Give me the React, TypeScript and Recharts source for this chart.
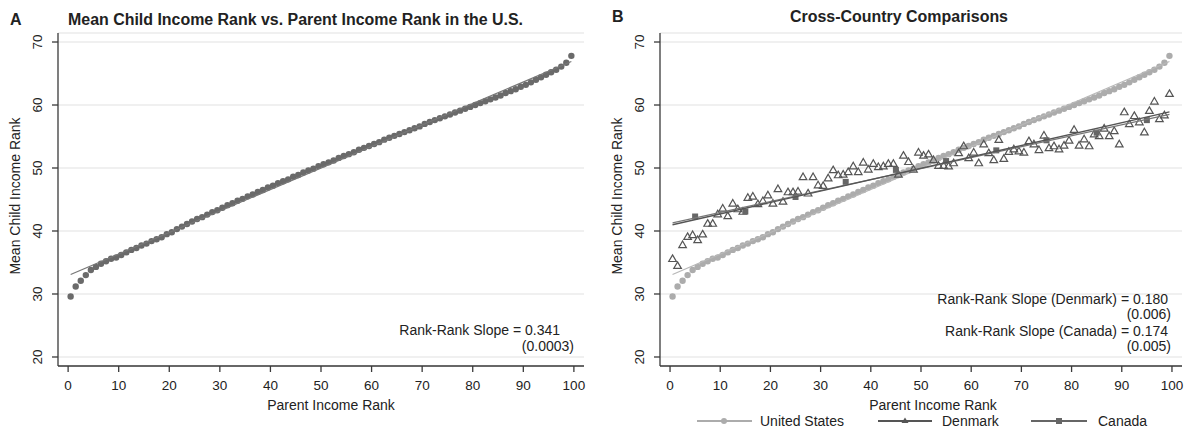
import React from 'react';
import { ScatterChart, Scatter, XAxis, YAxis, CartesianGrid } from 'recharts';

// ---------- data ----------
const parentRanks: number[] = Array.from({ length: 100 }, (_, i) => i + 0.5);

const usChildRank: number[] = [
  29.6, 31.2, 32.1, 33.0, 33.8, 34.3, 34.8, 35.2, 35.6, 35.8,
  36.2, 36.6, 37.0, 37.3, 37.7, 38.0, 38.4, 38.7, 39.0, 39.5,
  39.8, 40.3, 40.7, 41.1, 41.5, 41.9, 42.2, 42.6, 43.0, 43.3,
  43.7, 44.1, 44.4, 44.8, 45.1, 45.5, 45.8, 46.2, 46.5, 46.9,
  47.2, 47.6, 47.9, 48.2, 48.6, 48.9, 49.3, 49.6, 49.9, 50.3,
  50.6, 50.9, 51.2, 51.6, 51.9, 52.2, 52.5, 52.9, 53.2, 53.5,
  53.8, 54.1, 54.5, 54.8, 55.1, 55.4, 55.7, 56.0, 56.3, 56.6,
  57.0, 57.3, 57.6, 57.9, 58.2, 58.5, 58.8, 59.1, 59.4, 59.7,
  60.0, 60.3, 60.6, 60.9, 61.2, 61.5, 61.9, 62.2, 62.5, 62.9,
  63.2, 63.6, 64.0, 64.4, 64.8, 65.2, 65.6, 66.1, 66.7, 67.8,
];

const denmarkChildRank: number[] = [
  35.6, 34.5, 37.8, 39.1, 39.4, 38.6, 39.5, 41.2, 41.2, 42.7,
  43.6, 42.4, 44.4, 43.5, 43.1, 45.3, 45.5, 44.3, 44.8, 45.7,
  44.4, 46.7, 44.7, 46.2, 46.2, 46.3, 48.6, 46.0, 48.6, 47.3,
  47.2, 48.4, 49.7, 48.9, 49.0, 49.4, 50.3, 49.4, 50.9, 49.8,
  50.7, 50.2, 50.3, 50.7, 50.7, 49.0, 52.0, 51.0, 49.8, 52.5,
  52.0, 52.2, 51.3, 50.4, 50.4, 50.3, 50.8, 52.4, 53.5, 51.6,
  52.5, 50.8, 53.8, 52.4, 51.3, 54.5, 51.5, 52.6, 53.0, 52.7,
  52.5, 54.3, 53.8, 52.9, 55.2, 53.2, 53.5, 53.0, 53.6, 54.4,
  56.1, 53.6, 54.6, 53.5, 55.4, 55.1, 56.3, 55.1, 55.9, 53.8,
  58.9, 57.0, 58.3, 57.3, 55.7, 59.1, 60.6, 57.8, 58.4, 61.8,
];

const canadaParentRanks: number[] = [5, 15, 25, 35, 45, 55, 65, 75, 85, 95];
const canadaChildRank: number[] = [42.3, 43.1, 45.4, 47.8, 49.7, 51.1, 52.8, 54.4, 55.6, 57.6];

const fitEndsX: number[] = [0.5, 99.5];
const usFitY: number[] = [33.1, 66.9];
const denmarkFitY: number[] = [41.0, 58.9];
const canadaFitY: number[] = [41.3, 58.5];

const xTicks: number[] = [0, 10, 20, 30, 40, 50, 60, 70, 80, 90, 100];
const yTicks: number[] = [20, 30, 40, 50, 60, 70];

// ---------- derived tables ----------
const usData = parentRanks.map((x, i) => ({ x, y: usChildRank[i] }));
const dkData = parentRanks.map((x, i) => ({ x, y: denmarkChildRank[i] }));
const caData = canadaParentRanks.map((x, i) => ({ x, y: canadaChildRank[i] }));
const usFit = fitEndsX.map((x, i) => ({ x, y: usFitY[i] }));
const dkFit = fitEndsX.map((x, i) => ({ x, y: denmarkFitY[i] }));
const caFit = fitEndsX.map((x, i) => ({ x, y: canadaFitY[i] }));

const FONT = '"Liberation Sans", Arial, Helvetica, sans-serif';
const TXT = '#222';
const AXIS = '#3a3a3a';
const US_A = '#6a6a6a';
const US_B = '#acacac';
const DK = '#555555';
const CA = '#666666';

const XTick = (props: any) => (
  <text x={props.x} y={390} textAnchor="middle" fontSize={13.5} fill={TXT} fontFamily={FONT}>
    {props.payload.value}
  </text>
);

const makeYTick = (plotLeft: number) => (props: any) => (
  <text
    transform={`translate(${plotLeft - 16},${props.y}) rotate(-90)`}
    textAnchor="middle"
    fontSize={13.5}
    fill={TXT}
    fontFamily={FONT}
  >
    {props.payload.value}
  </text>
);

const dotShape = (color: string) => (p: any) => <circle cx={p.cx} cy={p.cy} r={3.2} fill={color} />;
const triShape = (p: any) => (
  <path
    d={`M${p.cx},${p.cy - 3.8} L${p.cx + 3.8},${p.cy + 2.8} L${p.cx - 3.8},${p.cy + 2.8} Z`}
    fill="none"
    stroke={DK}
    strokeWidth={1.2}
  />
);
const sqShape = (p: any) => <rect x={p.cx - 3} y={p.cy - 3} width={6} height={6} fill={CA} />;
const noShape = () => <g />;

function axesFor(plotLeft: number) {
  return [
    <CartesianGrid key="g" horizontal vertical={false} stroke="#ebebeb" strokeWidth={1.5} />,
    <XAxis
      key="x"
      type="number"
      dataKey="x"
      domain={[-2, 102]}
      ticks={xTicks}
      interval={0}
      height={30}
      tickSize={6}
      allowDataOverflow
      axisLine={{ stroke: AXIS, strokeWidth: 1.3 }}
      tickLine={{ stroke: AXIS, strokeWidth: 1.3 }}
      tick={XTick}
    />,
    <YAxis
      key="y"
      type="number"
      dataKey="y"
      domain={[18.57, 71.43]}
      ticks={yTicks}
      interval={0}
      width={40}
      tickSize={6}
      allowDataOverflow
      axisLine={{ stroke: AXIS, strokeWidth: 1.3 }}
      tickLine={{ stroke: AXIS, strokeWidth: 1.3 }}
      tick={makeYTick(plotLeft)}
    />,
  ];
}

export default function App() {
  return (
    <div style={{ position: 'absolute', left: 0, top: 0, width: 1196, height: 432, background: '#fff', overflow: 'hidden' }}>
      <div style={{ position: 'absolute', left: 0, top: 0 }}>
        <ScatterChart width={600} height={432} margin={{ top: 33, right: 16, bottom: 36, left: 18 }}>
          {axesFor(58)}
          <Scatter data={usData} shape={dotShape(US_A)} isAnimationActive={false} />
          <Scatter data={usFit} line={{ stroke: '#777', strokeWidth: 1.2 }} shape={noShape} isAnimationActive={false} />
        </ScatterChart>
      </div>
      <div style={{ position: 'absolute', left: 600, top: 0 }}>
        <ScatterChart width={596} height={432} margin={{ top: 33, right: 14, bottom: 36, left: 20 }}>
          {axesFor(60)}
          <Scatter data={usData} shape={dotShape(US_B)} isAnimationActive={false} />
          <Scatter data={usFit} line={{ stroke: '#b8b8b8', strokeWidth: 1.2 }} shape={noShape} isAnimationActive={false} />
          <Scatter data={dkData} shape={triShape} isAnimationActive={false} />
          <Scatter data={caData} shape={sqShape} isAnimationActive={false} />
          <Scatter data={caFit} line={{ stroke: '#777', strokeWidth: 1.2 }} shape={noShape} isAnimationActive={false} />
          <Scatter data={dkFit} line={{ stroke: DK, strokeWidth: 1.4 }} shape={noShape} isAnimationActive={false} />
        </ScatterChart>
      </div>
      <svg
        width={1196}
        height={432}
        style={{ position: 'absolute', left: 0, top: 0, pointerEvents: 'none' }}
        fontFamily={FONT}
      >
        {/* Panel A */}
        <text x={10} y={25} fontSize={16} fontWeight="bold" fill={TXT}>A</text>
        <text x={68} y={25} fontSize={16} fontWeight="bold" fill={TXT} textLength={455} lengthAdjust="spacingAndGlyphs">
          Mean Child Income Rank vs. Parent Income Rank in the U.S.
        </text>
        <text transform="translate(20,196) rotate(-90)" textAnchor="middle" fontSize={14} fill={TXT}>
          Mean Child Income Rank
        </text>
        <text x={331} y={410} textAnchor="middle" fontSize={14} fill={TXT}>Parent Income Rank</text>
        <text x={560} y={335} textAnchor="end" fontSize={14} fill={TXT}>Rank-Rank Slope = 0.341</text>
        <text x={574} y={351} textAnchor="end" fontSize={14} fill={TXT}>(0.0003)</text>

        {/* Panel B */}
        <text x={612} y={22} fontSize={16} fontWeight="bold" fill={TXT}>B</text>
        <text x={899} y={22} textAnchor="middle" fontSize={16} fontWeight="bold" fill={TXT} textLength={218} lengthAdjust="spacingAndGlyphs">
          Cross-Country Comparisons
        </text>
        <text transform="translate(622,196) rotate(-90)" textAnchor="middle" fontSize={14} fill={TXT}>
          Mean Child Income Rank
        </text>
        <text x={933} y={410} textAnchor="middle" fontSize={14} fill={TXT}>Parent Income Rank</text>
        <text x={1168} y={304} textAnchor="end" fontSize={14} fill={TXT}>Rank-Rank Slope (Denmark) = 0.180</text>
        <text x={1171} y={319} textAnchor="end" fontSize={14} fill={TXT}>(0.006)</text>
        <text x={1168} y={336} textAnchor="end" fontSize={14} fill={TXT}>Rank-Rank Slope (Canada) = 0.174</text>
        <text x={1171} y={351} textAnchor="end" fontSize={14} fill={TXT}>(0.005)</text>

        {/* Legend */}
        <line x1={697} y1={421} x2={752} y2={421} stroke={US_B} strokeWidth={2} />
        <circle cx={724} cy={421} r={3} fill={US_B} />
        <text x={760} y={426} fontSize={14} fill={TXT}>United States</text>
        <line x1={878} y1={421} x2={932} y2={421} stroke={DK} strokeWidth={2} />
        <path d="M905,417.5 L908.5,423 L901.5,423 Z" fill={DK} />
        <text x={942} y={426} fontSize={14} fill={TXT}>Denmark</text>
        <line x1={1031} y1={421} x2={1087} y2={421} stroke={CA} strokeWidth={2} />
        <rect x={1056} y={418} width={6} height={6} fill={CA} />
        <text x={1098} y={426} fontSize={14} fill={TXT}>Canada</text>
      </svg>
    </div>
  );
}
